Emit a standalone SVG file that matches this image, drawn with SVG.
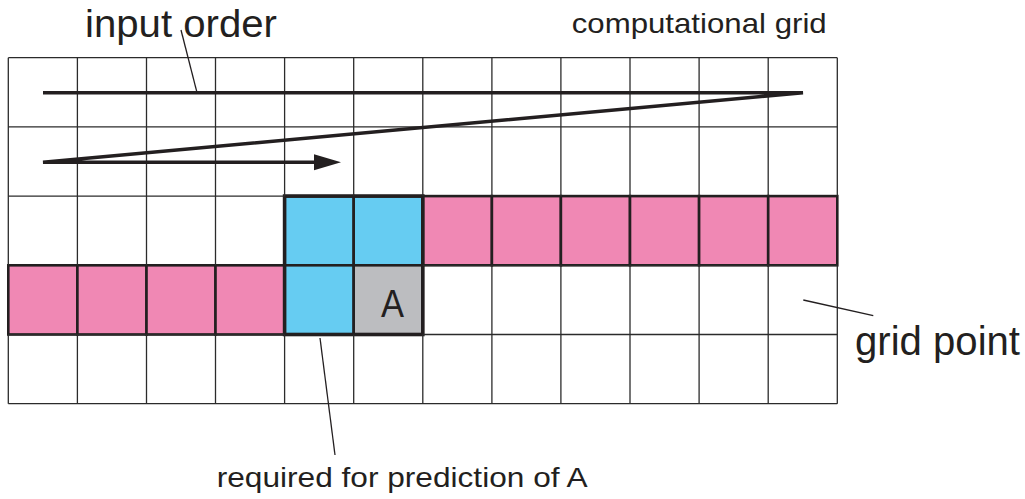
<svg xmlns="http://www.w3.org/2000/svg" width="1025" height="499" viewBox="0 0 1025 499">
  <style>
    .grid line { stroke: #2b2b2b; stroke-width: 1.3; }
    .pink { fill: #f088b4; stroke: #231f20; stroke-width: 2.6; }
    .blue { fill: #66ccf2; stroke: #231f20; stroke-width: 2.6; }
    .gray { fill: #bcbdc0; stroke: #231f20; stroke-width: 2.6; }
    .label { font-family: "Liberation Sans", Arial, sans-serif; fill: #231f20; }
    .leader { stroke: #231f20; stroke-width: 1.3; fill: none; }
    .order { stroke: #231f20; stroke-width: 3.5; fill: none; stroke-linejoin: miter; }
  </style>
  <defs>
    <!-- filled arrowhead; its base sits just behind the end of the path -->
    <marker id="arrow" markerUnits="userSpaceOnUse" markerWidth="30" markerHeight="18" refX="2" refY="8" orient="auto" overflow="visible">
      <path d="M0,0 L27,8 L0,16 Z" fill="#231f20"/>
    </marker>
  </defs>

  <rect width="1025" height="499" fill="#ffffff"/>

  <!-- coloured cells: predicted rows and the causal neighbourhood of A -->
  <g id="cells">
    <g id="row3-pink">
      <rect class="pink" x="422.8" y="196.1" width="69.1" height="69.2"/>
      <rect class="pink" x="491.9" y="196.1" width="69.0" height="69.2"/>
      <rect class="pink" x="560.9" y="196.1" width="69.1" height="69.2"/>
      <rect class="pink" x="630.0" y="196.1" width="69.1" height="69.2"/>
      <rect class="pink" x="699.1" y="196.1" width="69.1" height="69.2"/>
      <rect class="pink" x="768.2" y="196.1" width="69.1" height="69.2"/>
    </g>
    <g id="row4-pink">
      <rect class="pink" x="8.3" y="265.3" width="69.1" height="69.2"/>
      <rect class="pink" x="77.4" y="265.3" width="69.1" height="69.2"/>
      <rect class="pink" x="146.5" y="265.3" width="69.0" height="69.2"/>
      <rect class="pink" x="215.5" y="265.3" width="69.1" height="69.2"/>
    </g>
    <g id="neighbours">
      <rect class="blue" x="284.6" y="196.1" width="69.1" height="69.2"/>
      <rect class="blue" x="353.7" y="196.1" width="69.1" height="69.2"/>
      <rect class="blue" x="284.6" y="265.3" width="69.1" height="69.2"/>
    </g>
    <g id="cell-A">
      <rect class="gray" x="353.7" y="265.3" width="69.1" height="69.2"/>
      <text class="label" x="392.5" y="316.7" font-size="39" text-anchor="middle" textLength="23" lengthAdjust="spacingAndGlyphs">A</text>
    </g>
    <rect x="284.6" y="196.1" width="138.2" height="138.4" fill="none" stroke="#231f20" stroke-width="3.6"/>
  </g>

  <!-- computational grid: 12 columns x 5 rows -->
  <g id="grid" class="grid">
    <line x1="8.3" y1="57.7" x2="837.3" y2="57.7"/>
    <line x1="8.3" y1="126.9" x2="837.3" y2="126.9"/>
    <line x1="8.3" y1="196.1" x2="284.6" y2="196.1"/>
    <line x1="422.8" y1="334.5" x2="837.3" y2="334.5"/>
    <line x1="422.8" y1="265.3" x2="837.3" y2="265.3"/>
    <line x1="8.3" y1="334.5" x2="284.6" y2="334.5"/>
    <line x1="8.3" y1="403.7" x2="837.3" y2="403.7"/>
    <line x1="8.3" y1="57.7" x2="8.3" y2="265.3"/>
    <line x1="8.3" y1="334.5" x2="8.3" y2="403.7"/>
    <line x1="77.4" y1="57.7" x2="77.4" y2="265.3"/>
    <line x1="77.4" y1="334.5" x2="77.4" y2="403.7"/>
    <line x1="146.5" y1="57.7" x2="146.5" y2="265.3"/>
    <line x1="146.5" y1="334.5" x2="146.5" y2="403.7"/>
    <line x1="215.5" y1="57.7" x2="215.5" y2="265.3"/>
    <line x1="215.5" y1="334.5" x2="215.5" y2="403.7"/>
    <line x1="284.6" y1="57.7" x2="284.6" y2="196.1"/>
    <line x1="284.6" y1="334.5" x2="284.6" y2="403.7"/>
    <line x1="353.7" y1="57.7" x2="353.7" y2="196.1"/>
    <line x1="353.7" y1="334.5" x2="353.7" y2="403.7"/>
    <line x1="422.8" y1="57.7" x2="422.8" y2="196.1"/>
    <line x1="422.8" y1="334.5" x2="422.8" y2="403.7"/>
    <line x1="491.9" y1="57.7" x2="491.9" y2="196.1"/>
    <line x1="491.9" y1="265.3" x2="491.9" y2="403.7"/>
    <line x1="560.9" y1="57.7" x2="560.9" y2="196.1"/>
    <line x1="560.9" y1="265.3" x2="560.9" y2="403.7"/>
    <line x1="630.0" y1="57.7" x2="630.0" y2="196.1"/>
    <line x1="630.0" y1="265.3" x2="630.0" y2="403.7"/>
    <line x1="699.1" y1="57.7" x2="699.1" y2="196.1"/>
    <line x1="699.1" y1="265.3" x2="699.1" y2="403.7"/>
    <line x1="768.2" y1="57.7" x2="768.2" y2="196.1"/>
    <line x1="768.2" y1="265.3" x2="768.2" y2="403.7"/>
    <line x1="837.3" y1="57.7" x2="837.3" y2="196.1"/>
    <line x1="837.3" y1="265.3" x2="837.3" y2="403.7"/>
  </g>

  <!-- raster input order and leader lines -->
  <g id="connectors">
    <path id="input-order-path" class="order" d="M43,92.7 L803,92.7 L43,162.3 L316,162.3" marker-end="url(#arrow)"/>
    <line id="leader-input-order" class="leader" x1="181" y1="30" x2="197" y2="92.7"/>
    <line id="leader-grid-point" class="leader" x1="803.3" y1="300" x2="873.3" y2="315.7"/>
    <line id="leader-required" class="leader" x1="320" y1="338" x2="335" y2="455"/>
  </g>

  <!-- labels -->
  <g id="label-input-order">
    <text class="label" x="85" y="37" font-size="38" textLength="192" lengthAdjust="spacingAndGlyphs">input order</text>
  </g>
  <g id="label-computational-grid">
    <text class="label" x="571.7" y="33.3" font-size="28" textLength="255" lengthAdjust="spacingAndGlyphs">computational grid</text>
  </g>
  <g id="label-grid-point">
    <text class="label" x="855" y="355" font-size="41" textLength="165" lengthAdjust="spacingAndGlyphs">grid point</text>
  </g>
  <g id="label-required">
    <text class="label" x="216.7" y="486.7" font-size="28" textLength="371" lengthAdjust="spacingAndGlyphs">required for prediction of A</text>
  </g>
</svg>
